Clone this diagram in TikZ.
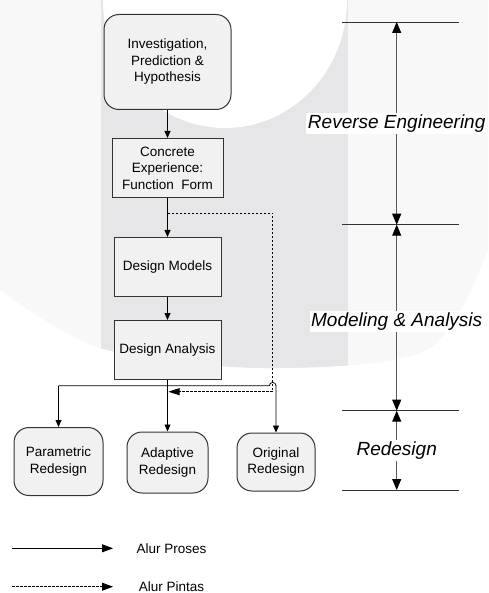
\documentclass[tikz,border=0pt]{standalone}
\usepackage{fontspec}
\setmainfont{Liberation Sans}
\usepackage{xcolor}
\usepackage{tikz}
\usetikzlibrary{positioning,arrows.meta}

\definecolor{boxfill}{HTML}{F1F1F1}
\definecolor{bandgray}{HTML}{E6E6E8}
\definecolor{washgray}{HTML}{F8F8F8}
\definecolor{edgegray}{HTML}{333333}

\begin{document}
\begin{tikzpicture}[x=1pt, y=1pt,
                    flow box/.style={rectangle, draw=edgegray, line width=1pt, fill=boxfill, align=center, inner sep=2pt,
                                     font=\fontsize{13.5}{16.5}\selectfont},
                    flow round/.style={flow box, rounded corners=15pt},
                    flow arrow/.style={-{Triangle[length=7pt, width=6pt]}, line width=0.8pt},
                    flow dash/.style={-{Triangle[length=11pt, width=7pt]}, line width=0.8pt, dash pattern=on 2.5pt off 1.5pt},
                    span arrow/.style={{Triangle[length=11pt, width=9pt, color=black]}-{Triangle[length=11pt, width=9pt, color=black]}, line width=1pt, draw=black!65},
                    span label/.style={fill=white, inner sep=1.5pt, font=\fontsize{19}{22}\selectfont\itshape},
                    scale line/.style={line width=0.9pt, draw=black!80}]

    % watermark in the back
    \useasboundingbox (0,0) rectangle (488,-593);
    \fill[white] (0,0) rectangle (488,-593);
    \fill[washgray] (0,0) -- plot[smooth] coordinates {(0,-290) (100,-348) (263,-368) (427,-350) (488,-250)} -- (488,0) -- cycle;
    \begin{scope}
        \clip (0,0) -- plot[smooth] coordinates {(0,-290) (100,-348) (263,-368) (427,-350) (488,-250)} -- (488,0) -- cycle;
        \fill[bandgray] (101,0) rectangle (348,-400);
    \end{scope}
    \fill[white] (225,0) ellipse [x radius=122, y radius=128];

    % main column
    \node [flow round, minimum width=127pt, minimum height=95pt] (inv) at (167.5,-62) {Investigation,\\Prediction \&\\Hypothesis};
    \node [flow box, minimum width=111pt, minimum height=59pt, below=28pt of inv] (conc) {Concrete\\Experience:\\Function~~Form};
    \node [flow box, minimum width=107pt, minimum height=59pt, below=39pt of conc] (mdl) {Design Models};
    \node [flow box, minimum width=107pt, minimum height=59pt, below=23pt of mdl] (ana) {Design Analysis};

    \node [flow round, minimum width=89pt, minimum height=68pt] (par) at (58.5,-461.5) {Parametric\\Redesign};
    \node [flow round, minimum width=81pt, minimum height=61pt] (ada) at (167.5,-462.5) {Adaptive\\Redesign};
    \node [flow round, minimum width=78pt, minimum height=58pt] (ori) at (276,-462) {Original\\Redesign};

    \draw [flow arrow] (inv) -- (conc);
    \draw [flow arrow] (conc) -- (mdl);
    \draw [flow arrow] (mdl) -- (ana);
    \draw [flow arrow] (ana) -- (ada);

    % branches to the three redesigns
    \coordinate (jl) at (58.5,-385.7);
    \coordinate (hop) at (272.7,-385.7);
    \draw [flow arrow] (jl) -- (par);
    \draw [flow arrow] (jl) -- ([xshift=-3.3pt]hop) arc[start angle=180, end angle=0, radius=3.3pt] -- (ori.north);

    % shortcut (dashed)
    \coordinate (tap) at (167.5,-213);
    \coordinate (dr) at (272.7,-213);
    \coordinate (db) at (272.7,-391.7);
    \coordinate (dend) at (168.5,-391.7);
    \draw [flow dash] (tap) -- (dr) -- (db) -- (dend);

    % phases on the right
    \foreach \y/\n in {22/0, 224.7/1, 410.7/2, 490/3} {
        \coordinate (lv\n) at (396.7,-\y);
        \draw [scale line] ([xshift=-54.7pt]lv\n) -- ([xshift=62.3pt]lv\n);
    }
    \draw [span arrow] (lv0) -- node[span label] (rev) {Reverse Engineering} (lv1);
    \draw [span arrow] (lv1) -- node[span label, pos=0.52] (mod) {Modeling \& Analysis} (lv2);
    \draw [span arrow] (lv2) -- node[span label] (red) {Redesign} (lv3);

    % legend
    \coordinate (lg1) at (12,-548.3);
    \coordinate (lg1e) at (113,-548.3);
    \coordinate (lg2) at (12,-586.7);
    \coordinate (lg2e) at (113,-586.7);
    \draw [flow arrow, -{Triangle[length=11pt, width=8pt]}] (lg1) -- (lg1e);
    \draw [flow dash, -{Triangle[length=11pt, width=8pt]}] (lg2) -- (lg2e);
    \node [font=\fontsize{13.5}{16.5}\selectfont] (lgp) at (171.5,-548.3) {Alur Proses};
    \node [font=\fontsize{13.5}{16.5}\selectfont] (lgd) at (171.5,-586.7) {Alur Pintas};

\end{tikzpicture}
\end{document}
